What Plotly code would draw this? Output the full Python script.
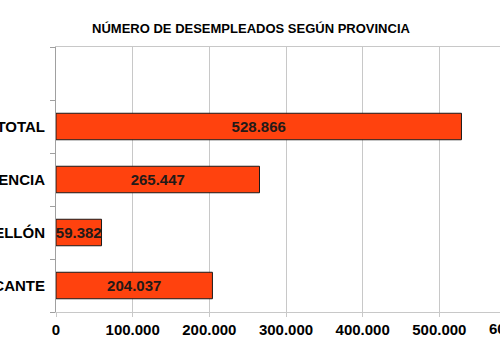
import plotly.graph_objects as go

# Data
provincias = ["ALICANTE", "CASTELLÓN", "VALENCIA", "TOTAL"]
desempleados = [204037, 59382, 265447, 528866]
x_ticks = [0, 100000, 200000, 300000, 400000, 500000, 600000]
title = "NÚMERO DE DESEMPLEADOS SEGÚN PROVINCIA"

FONT = "Liberation Sans, Arial, sans-serif"
W, H = 500, 356
ML, MR, MT, MB = 56, 0, 47, 356 - 312
plot_w = W - ML - MR
# axis range chosen so that the last tick (600.000) falls just outside the window
x_range_max = x_ticks[-1] * plot_w / (plot_w + 16)

ypos = list(range(len(provincias)))

fig = go.Figure()
fig.add_trace(go.Bar(
    x=desempleados,
    y=ypos,
    orientation="h",
    width=0.5,
    marker=dict(color="#ff420e", line=dict(color="#1a1a1a", width=1)),
    texttemplate="%{x:,}",
    textposition="inside",
    insidetextanchor="middle",
    constraintext="none",
    cliponaxis=False,
    textfont=dict(family=FONT, size=15, color="#231a18", weight="bold"),
    hoverinfo="skip",
))

fig.update_layout(
    width=W, height=H,
    margin=dict(l=ML, r=MR, t=MT, b=MB, autoexpand=False),
    paper_bgcolor="white", plot_bgcolor="white",
    separators=",.",
    showlegend=False,
    title=dict(text=title, x=251 / W, xref="container", xanchor="center",
               y=1 - 28 / H, yref="container", yanchor="middle",
               font=dict(family=FONT, size=13, color="#000000", weight="bold")),
    xaxis=dict(
        range=[0, x_range_max],
        tickvals=x_ticks,
        tickformat=",d",
        showgrid=True, gridcolor="#c8c8c8", gridwidth=1,
        zeroline=False,
        showline=True, linecolor="#c8c8c8", linewidth=1, mirror=True,
        ticks="outside", ticklen=4, tickcolor="#c8c8c8",
        tickfont=dict(family=FONT, size=15, color="#000000", weight="bold"),
        automargin=False,
        fixedrange=True,
    ),
    yaxis=dict(
        range=[-0.5, len(provincias) + 0.5],
        tickvals=ypos,
        ticktext=provincias,
        ticks="",
        showgrid=False,
        zeroline=False,
        showline=True, linecolor="#a0a0a0", linewidth=1,
        minor=dict(tick0=-0.5, dtick=1, ticks="outside", ticklen=5,
                   tickcolor="#a0a0a0", showgrid=False),
        ticklabelstandoff=7,
        tickfont=dict(family=FONT, size=15, color="#000000", weight="bold"),
        automargin=False,
        fixedrange=True,
    ),
)

# last x tick label, lying beyond the right edge of the window (clipped like in the reference)
fig.add_annotation(
    x=x_ticks[-1] / x_range_max, xref="paper", xanchor="center",
    y=0, yref="paper", yanchor="top", yshift=-6,
    text=f"{x_ticks[-1]:,}".replace(",", "."), showarrow=False,
    font=dict(family=FONT, size=15, color="#000000", weight="bold"),
)

fig.write_html(
    "out.html",
    config={"displayModeBar": False, "staticPlot": True},
    post_script="document.body.style.margin='0';document.body.style.overflow='hidden';",
)
